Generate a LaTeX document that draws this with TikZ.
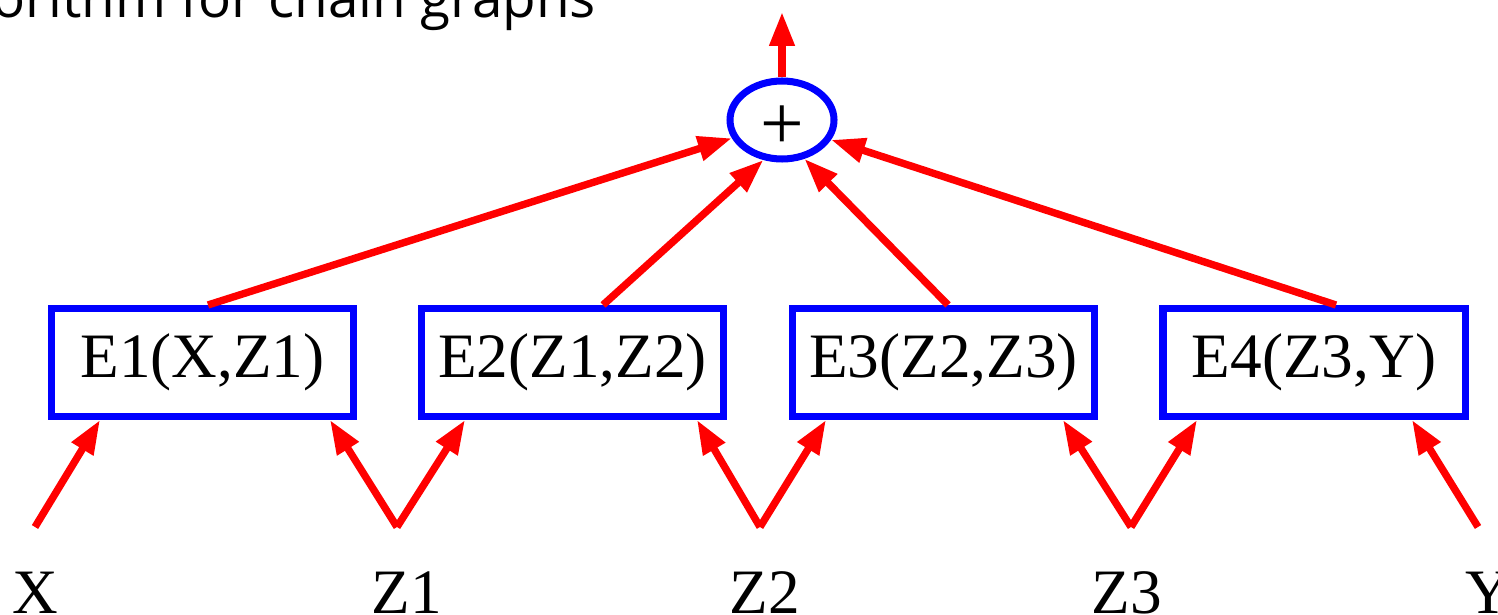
\documentclass[tikz,border=0pt]{standalone}
\usepackage{fontspec}
\setmainfont{Liberation Serif}
\newfontfamily\titlefont{Open Sans}
\usetikzlibrary{arrows.meta, positioning, shapes.geometric, calc}

\begin{document}
\begin{tikzpicture}[font=\fontsize{18pt}{20pt}\selectfont,
    >={Triangle[length=0.34cm, width=0.24cm]},
    factor/.style={draw=blue, line width=2pt, rectangle, minimum width=3.02cm, minimum height=1.08cm, inner sep=0pt},
    sumnode/.style={draw=blue, line width=2pt, ellipse, minimum width=1.04cm, minimum height=0.78cm, inner sep=0pt},
    flow/.style={->, red, line width=2.1pt}]
        \useasboundingbox (0,0) rectangle (14.98,6.15);
        \clip (0,0) rectangle (14.98,6.15);

        % Title, cut by the page edge
        \node[anchor=base west, inner sep=0pt, font=\titlefont\fontsize{15.6pt}{17pt}\selectfont] (title) at (-0.08,5.97) {orithm for chain graphs};

        % Factors
        \node[factor] (e1) at (2.025,2.525) {E1(X,Z1)};
        \node[factor] (e2) at (5.725,2.525) {E2(Z1,Z2)};
        \node[factor] (e3) at (9.435,2.525) {E3(Z2,Z3)};
        \node[factor] (e4) at (13.14,2.525) {E4(Z3,Y)};

        % Sum
        \node[sumnode] (sum) at (7.82,4.95) {};
        \node[font=\fontsize{22pt}{24pt}\selectfont] (plus) at (7.82,4.87) {+};
        \coordinate (out) at (7.82,6.03);

        % Variables
        \node[anchor=base] (x) at (0.35,0.01) {X};
        \node[anchor=base] (z1) at (4.07,0.01) {Z1};
        \node[anchor=base] (z2) at (7.65,0.01) {Z2};
        \node[anchor=base] (z3) at (11.27,0.01) {Z3};
        \node[anchor=base] (y) at (14.88,0.01) {Y};
        \coordinate (xs) at (0.35,0.88);
        \coordinate (z1s) at (3.97,0.88);
        \coordinate (z2s) at (7.60,0.88);
        \coordinate (z3s) at (11.31,0.88);
        \coordinate (ys) at (14.78,0.88);

        % Variables into factors
        \draw[flow] (xs) -- ([xshift=-1.025cm]e1.south);
        \draw[flow] (z1s) -- ([xshift=1.275cm]e1.south);
        \draw[flow] (z1s) -- ([xshift=-1.075cm]e2.south);
        \draw[flow] (z2s) -- ([xshift=1.245cm]e2.south);
        \draw[flow] (z2s) -- ([xshift=-1.175cm]e3.south);
        \draw[flow] (z3s) -- ([xshift=1.195cm]e3.south);
        \draw[flow] (z3s) -- ([xshift=-1.17cm]e4.south);
        \draw[flow] (ys) -- ([xshift=0.98cm]e4.south);

        % Factors into the sum
        \draw[flow] ([xshift=0.055cm]e1.north) -- (sum.200);
        \draw[flow] ([xshift=0.305cm]e2.north) -- (sum.245);
        \draw[flow] ([xshift=0.045cm]e3.north) -- (sum.300);
        \draw[flow] ([xshift=0.22cm]e4.north) -- (sum.338);
        \draw[flow] (sum.north) -- (out);
\end{tikzpicture}
\end{document}
